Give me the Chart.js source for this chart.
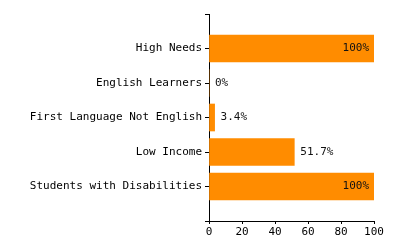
<!DOCTYPE html>
<html>
<head>
<meta charset="utf-8">
<script src="https://cdn.jsdelivr.net/npm/chart.js@4/dist/chart.umd.min.js"></script>
<style>
  html, body { margin: 0; padding: 0; background: #fff; }
  #wrap { width: 400px; height: 250px; }
</style>
</head>
<body>
<div id="wrap"><canvas id="chart" width="400" height="250"></canvas></div>
<script>
// chart data
var categories = ['High Needs', 'English Learners', 'First Language Not English', 'Low Income', 'Students with Disabilities'];
var values = [100, 0, 3.4, 51.7, 100];
var valueLabels = ['100%', '0%', '3.4%', '51.7%', '100%'];
var xTicks = [0, 20, 40, 60, 80, 100];

var barColor = '#ff8c00';
var monoFont = "'DejaVu Sans Mono', monospace";

// empty slots at both ends so the categories sit inside the axis line
var paddedLabels = [''].concat(categories, ['']);
var paddedValues = [null].concat(values, [null]);
var paddedText = [''].concat(valueLabels, ['']);

// draws the percent text next to / inside each bar
var valueLabelPlugin = {
  id: 'valueLabels',
  afterDatasetsDraw: function (chart) {
    var ctx = chart.ctx;
    var meta = chart.getDatasetMeta(0);
    ctx.save();
    ctx.font = '11px ' + monoFont;
    ctx.textBaseline = 'middle';
    ctx.fillStyle = '#111';
    meta.data.forEach(function (bar, i) {
      var v = paddedValues[i];
      if (v === null) return;
      if (v >= 90) {
        ctx.textAlign = 'right';
        ctx.fillText(paddedText[i], bar.x - 5, bar.y);
      } else {
        ctx.textAlign = 'left';
        ctx.fillText(paddedText[i], bar.x + 6, bar.y);
      }
    });
    ctx.restore();
  }
};

var config = {
  type: 'bar',
  data: {
    labels: paddedLabels,
    datasets: [{
      data: paddedValues,
      backgroundColor: barColor,
      borderWidth: 0,
      barThickness: 27
    }]
  },
  options: {
    indexAxis: 'y',
    responsive: false,
    animation: false,
    layout: { padding: { top: 14, right: 26, left: 0, bottom: 0 } },
    plugins: {
      legend: { display: false },
      tooltip: { enabled: false }
    },
    scales: {
      y: {
        type: 'category',
        offset: false,
        grid: { offset: false, drawOnChartArea: false, drawTicks: true, tickLength: 4, color: '#000' },
        border: { display: true, color: '#000', width: 1 },
        ticks: { color: '#000', padding: 3, font: { family: monoFont, size: 11 }, autoSkip: false },
        afterFit: function (scale) { scale.width = 209; }
      },
      x: {
        min: 0,
        max: 100,
        afterBuildTicks: function (scale) {
          scale.ticks = xTicks.map(function (v) { return { value: v }; });
        },
        grid: { drawOnChartArea: false, drawTicks: true, tickLength: 3, color: '#000' },
        border: { display: true, color: '#000', width: 1 },
        ticks: { color: '#000', padding: 2, maxRotation: 0, font: { family: monoFont, size: 11 } },
        afterFit: function (scale) { scale.height = 29; }
      }
    }
  },
  plugins: [valueLabelPlugin]
};

var ctx = document.getElementById('chart').getContext('2d');
window.myChart = new Chart(ctx, config);
</script>
</body>
</html>
